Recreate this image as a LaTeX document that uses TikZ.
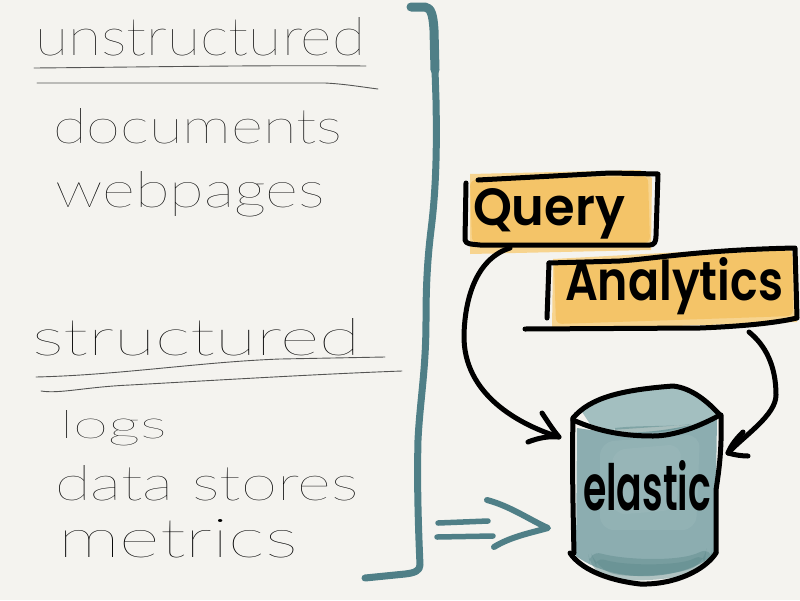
\documentclass[tikz,border=0pt]{standalone}
\usepackage{fontspec}
\usepackage{graphicx}
\setmainfont{Lato}[UprightFont=* Hairline,ItalicFont=* Hairline Italic]
\newfontfamily\inkfont{Poppins}[BoldFont=* SemiBold]
\usetikzlibrary{calc}
\definecolor{paper}{HTML}{F4F3EF}
\definecolor{tealink}{HTML}{4F7F87}
\definecolor{tealfill}{HTML}{8CADB0}
\definecolor{teallight}{HTML}{A3BFC0}
\definecolor{tealdark}{HTML}{5E8A8C}
\definecolor{amber}{HTML}{F4C468}
\definecolor{amberpale}{HTML}{F7D48F}
\definecolor{pencil}{HTML}{000000}
\newcommand{\fitbox}[3]{\resizebox{#1pt}{#2pt}{#3}}
\tikzset{
  x=1pt,y=-1pt,
  thin label/.style={anchor=base west,inner sep=0pt,outer sep=0pt,text=pencil},
  bold label/.style={anchor=base west,inner sep=0pt,outer sep=0pt,text=black,font=\inkfont\bfseries},
  rule line/.style={draw=pencil!65!paper,line width=0.9pt,line cap=round},
  ink/.style={draw=black,line width=5pt,line cap=round,line join=round},
  teal stroke/.style={draw=tealink,line width=5.5pt,line cap=round,line join=round},
  swatch/.style={fill=amber,draw=none,rounded corners=6pt},
  wash/.style={draw=none,opacity=0.3,rounded corners=14pt}
}
\begin{document}
\begin{tikzpicture}
\useasboundingbox (0,0) rectangle (800,600);
\fill[paper] (0,0) rectangle (800,600);

% left column text
\node[thin label] (unstructured) at (35,55) {\fitbox{330}{38}{unstructured}};
\node[thin label] (documents) at (53,143) {\fitbox{289}{35}{documents}};
\node[thin label] (webpages) at (55,207) {\fitbox{270}{36}{webpages}};
\node[thin label] (structured) at (32,355) {\fitbox{328}{37}{structured}};
\node[thin label] (logs) at (60,438) {\fitbox{107}{28}{logs}};
\node[thin label] (datastores) at (55,500) {\fitbox{303}{35}{data stores}};
\node[thin label] (metrics) at (58,557) {\fitbox{240}{38}{metrics}};

% underlines
\draw[rule line] (34,68) .. controls (150,67) and (260,65) .. (366,66);
\draw[rule line] (37,83) -- (325,83) .. controls (345,84) and (362,87) .. (378,89);
\draw[rule line] (36,377) .. controls (120,375) and (200,362) .. (280,359) -- (385,357);
\draw[rule line] (41,391) .. controls (60,394) and (85,387) .. (130,385) .. controls (220,380) and (320,374) .. (402,371);

% bracket
\draw[teal stroke,line width=9pt] (411,7) -- (425,7) .. controls (431,8) and (433,14) .. (434,30) -- (435,70);
\draw[teal stroke,line width=7pt] (435,70) -- (436,100) .. controls (437,150) and (436,190) .. (431,230)
  .. controls (428,255) and (426,280) .. (426,320) .. controls (426,370) and (420,400) .. (418,440)
  .. controls (417,480) and (418,520) .. (420,565) .. controls (420,571) and (414,573) .. (405,574) -- (365,578);

% implies arrow
\coordinate (impliesTip) at (548,528);
\draw[teal stroke] (438,523) -- (488,521);
\draw[teal stroke] (437,537) -- (493,536);
\draw[teal stroke,line width=6pt] (487,500) .. controls (510,506) and (530,520) .. (impliesTip) .. controls (530,533) and (510,537) .. (494,547);

% box fills
\fill[amberpale] (470,174) -- (640,170) -- (652,178) -- (651,250) -- (470,254) -- cycle;
\fill[swatch] (470,180) -- (648,176) -- (650,243) -- (472,243) -- cycle;
\fill[amberpale] (553,259) -- (792,246) -- (797,322) -- (552,330) -- cycle;
\fill[swatch] (554,262) -- (792,250) -- (793,316) -- (556,324) -- cycle;

% box outlines
\draw[ink] (466,183) -- (465,240) .. controls (466,244) and (470,244) .. (480,245) -- (650,245) .. controls (654,245) and (656,242) .. (656,236) -- (658,174) -- (610,173) -- (478,180);
\draw[ink] (547,318) -- (549,263);
\draw[ink] (549,263) -- (620,261) .. controls (660,258) and (700,250) .. (795,248) -- (797,318) .. controls (780,322) and (750,326) .. (700,328) -- (525,329);

% cylinder fill, built of washes
\fill[teallight] (582,412) .. controls (595,397) and (625,388) .. (670,386) .. controls (690,388) and (705,398) .. (708,412) -- (700,424) -- (610,430) -- (590,424) -- cycle;
\fill[teallight] (690,392) -- (718,414) -- (700,428) -- cycle;
\fill[tealfill] (577,428) .. controls (610,433) and (650,438) .. (717,418) -- (715,553) .. controls (690,578) and (620,588) .. (576,556) -- cycle;
\fill[teallight,wash] (600,442) -- (700,434) -- (696,530) -- (600,530) -- cycle;
\fill[teallight,wash] (612,450) -- (682,444) -- (676,510) -- (612,515) -- cycle;
\fill[tealdark,wash,opacity=.45] (588,550) .. controls (625,560) and (680,562) .. (712,546) -- (712,562) .. controls (690,578) and (620,586) .. (590,568) -- cycle;
\fill[tealdark,wash,opacity=.45] (592,556) .. controls (625,566) and (680,566) .. (706,552) -- (705,562) .. controls (680,574) and (625,580) .. (596,566) -- cycle;
\fill[tealdark,opacity=.5] (615,428) .. controls (640,425) and (670,427) .. (692,424) .. controls (670,434) and (640,434) .. (615,431) -- cycle;

% cylinder outline
\draw[ink] (573,418) .. controls (590,398) and (620,390) .. (673,386) .. controls (692,388) and (708,402) .. (720,415);
\draw[ink] (573,420) .. controls (600,432) and (625,436) .. (653,436) .. controls (675,436) and (700,426) .. (720,415);
\draw[ink] (573,418) .. controls (572,460) and (573,510) .. (574,553);
\draw[ink] (721,415) .. controls (722,450) and (719,470) .. (716,490) -- (716,553);
\draw[ink] (570,553) .. controls (580,568) and (605,580) .. (640,584) .. controls (675,585) and (705,570) .. (716,553);

% bold labels
\node[bold label] (query) at (473,225) {\fitbox{152}{37}{Query}};
\node[bold label] (analytics) at (565,300) {\fitbox{218}{43}{Analytics}};
\node[bold label] (elastic) at (583,510) {\fitbox{128}{50}{elastic}};

% connectors
\coordinate (queryOut) at (510,248);
\coordinate (queryIn) at (559,437);
\coordinate (analyticsOut) at (749,332);
\coordinate (analyticsIn) at (728,453);
\draw[ink] (queryOut) .. controls (478,258) and (465,295) .. (464,335) .. controls (463,395) and (520,425) .. (queryIn);
\draw[ink] (542,413) .. controls (548,422) and (553,430) .. (queryIn) .. controls (548,436) and (538,438) .. (528,442);
\draw[ink] (analyticsOut) .. controls (765,345) and (776,365) .. (776,395) .. controls (776,415) and (745,435) .. (analyticsIn);
\draw[ink] (743,432) .. controls (737,438) and (731,445) .. (analyticsIn) .. controls (735,455) and (742,456) .. (748,456);
\end{tikzpicture}
\end{document}
